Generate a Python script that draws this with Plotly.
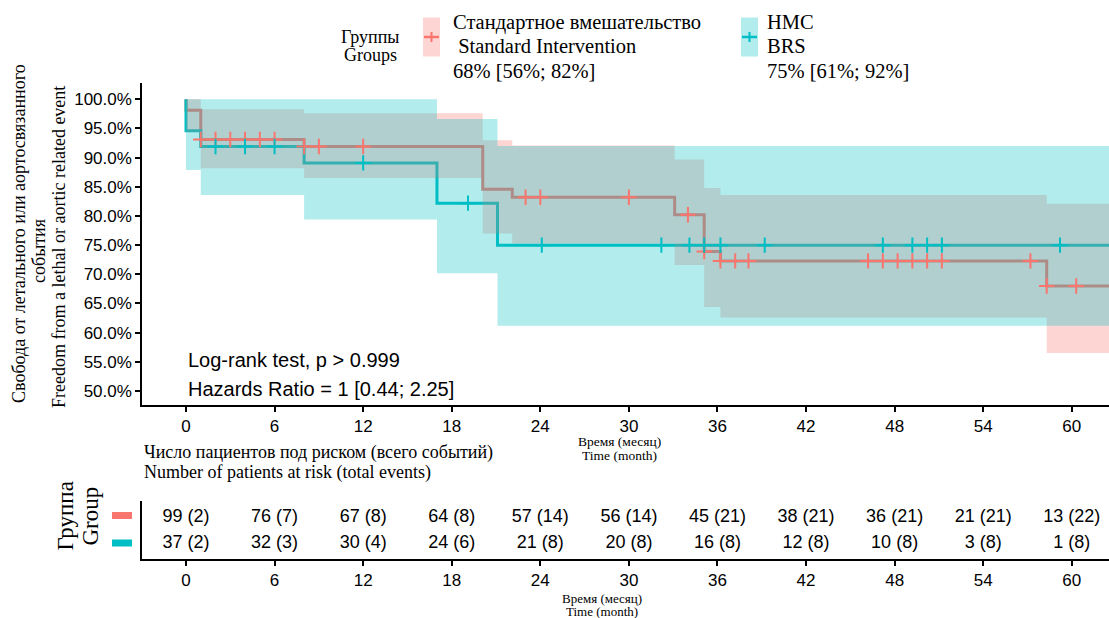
import plotly.graph_objects as go
import numpy as np

# ---------------- data ----------------
# Kaplan-Meier step curves (time in months, survival fraction)
red_time = [0, 0, 1.0, 8.0, 20.1, 22.1, 33.1, 35.1, 36.2, 58.3, 63]
red_surv = [1.0, 0.981, 0.931, 0.919, 0.846, 0.832, 0.802, 0.739, 0.723, 0.680, 0.680]
blue_time = [0, 0, 1.0, 8.0, 17.0, 21.1, 63]
blue_surv = [1.0, 0.946, 0.919, 0.891, 0.822, 0.750, 0.750]

# confidence bands (step functions)
red_ci_time = [0, 1.0, 8.0, 20.1, 22.1, 33.1, 35.1, 36.2, 58.3, 63]
red_lo = [0.944, 0.882, 0.865, 0.770, 0.753, 0.716, 0.644, 0.626, 0.565, 0.565]
red_hi = [1.0, 0.983, 0.976, 0.930, 0.921, 0.897, 0.848, 0.836, 0.821, 0.821]
blue_ci_time = [0, 1.0, 8.0, 17.0, 21.1, 63]
blue_lo = [0.879, 0.836, 0.794, 0.702, 0.612, 0.612]
blue_hi = [1.0, 1.0, 1.0, 0.966, 0.920, 0.920]

# censoring times
red_cens = [1, 2, 3, 4, 5, 6, 8, 9, 12, 23, 24, 30, 34, 35.1, 36.2, 37.2, 38.1,
            46.2, 47.2, 48.2, 49.2, 50.2, 51.2, 57.2, 58.3, 60.3]
blue_cens = [2, 4, 6, 12, 19.1, 24.1, 32.2, 34.1, 35.1, 36.2, 39.2,
             47.2, 49.2, 50.2, 51.2, 59.2]

# risk table
risk_times = [0, 6, 12, 18, 24, 30, 36, 42, 48, 54, 60]
red_at_risk = [99, 76, 67, 64, 57, 56, 45, 38, 36, 21, 13]
red_events = [2, 7, 8, 8, 14, 14, 21, 21, 21, 21, 22]
blue_at_risk = [37, 32, 30, 24, 21, 20, 16, 12, 10, 3, 1]
blue_events = [2, 3, 4, 6, 8, 8, 8, 8, 8, 8, 8]

y_ticks = [0.50, 0.55, 0.60, 0.65, 0.70, 0.75, 0.80, 0.85, 0.90, 0.95, 1.00]
x_ticks = [0, 6, 12, 18, 24, 30, 36, 42, 48, 54, 60]

red_label = ["Стандартное вмешательство", "\u00a0Standard Intervention", "68% [56%; 82%]"]
blue_label = ["HMC", "BRS", "75% [61%; 92%]"]
legend_title = ["Группы", "Groups"]
y_title = ["Свобода от летального или аортосвязанного", "события",
           "Freedom from a lethal or aortic related event"]
x_title = ["Время (месяц)", "Time (month)"]
risk_title = ["Число пациентов под риском (всего событий)", "Number of patients at risk (total events)"]
risk_ytitle = ["Группа", "Group"]

# ---------------- style ----------------
W, H = 1109, 618
RED = "#F8766D"
BLUE = "#00BFC4"
RED_F = "rgba(248,118,109,0.3)"
BLUE_F = "rgba(0,191,196,0.3)"
SERIF = "Liberation Serif"
SANS = "Liberation Sans"


def py(p):
    return 1 - p / H


def pxx(p):
    return p / W


def step_at(times, vals, t):
    i = np.searchsorted(np.array(times), t, side="right") - 1
    return vals[max(i, 0)]


fig = go.Figure()

fig.add_trace(go.Scatter(x=red_time, y=red_surv, mode="lines", line=dict(color=RED, width=3, shape="hv"),
                         hoverinfo="skip", showlegend=False))
fig.add_trace(go.Scatter(x=blue_time, y=blue_surv, mode="lines", line=dict(color=BLUE, width=3, shape="hv"),
                         hoverinfo="skip", showlegend=False))
fig.add_trace(go.Scatter(x=red_ci_time, y=red_lo, mode="lines", line=dict(width=0, shape="hv"),
                         hoverinfo="skip", showlegend=False))
fig.add_trace(go.Scatter(x=red_ci_time, y=red_hi, mode="lines", line=dict(width=0, shape="hv"),
                         fill="tonexty", fillcolor=RED_F, hoverinfo="skip", showlegend=False))
fig.add_trace(go.Scatter(x=blue_ci_time, y=blue_lo, mode="lines", line=dict(width=0, shape="hv"),
                         hoverinfo="skip", showlegend=False))
fig.add_trace(go.Scatter(x=blue_ci_time, y=blue_hi, mode="lines", line=dict(width=0, shape="hv"),
                         fill="tonexty", fillcolor=BLUE_F, hoverinfo="skip", showlegend=False))

red_cens_y = [step_at(red_time, red_surv, t) for t in red_cens]
blue_cens_y = [step_at(blue_time, blue_surv, t) for t in blue_cens]
fig.add_trace(go.Scatter(x=red_cens, y=red_cens_y, mode="markers",
                         marker=dict(symbol="cross-thin", size=11, line=dict(color=RED, width=2)),
                         hoverinfo="skip", showlegend=False))
fig.add_trace(go.Scatter(x=blue_cens, y=blue_cens_y, mode="markers",
                         marker=dict(symbol="cross-thin", size=11, line=dict(color=BLUE, width=2)),
                         hoverinfo="skip", showlegend=False))

# risk table text
fig.add_trace(go.Scatter(x=risk_times, y=[2] * len(risk_times), mode="text",
                         text=[f"{n} ({e})" for n, e in zip(red_at_risk, red_events)],
                         textfont=dict(family=SANS, size=18, color="black"),
                         xaxis="x2", yaxis="y2", hoverinfo="skip", showlegend=False))
fig.add_trace(go.Scatter(x=risk_times, y=[1] * len(risk_times), mode="text",
                         text=[f"{n} ({e})" for n, e in zip(blue_at_risk, blue_events)],
                         textfont=dict(family=SANS, size=18, color="black"),
                         xaxis="x2", yaxis="y2", hoverinfo="skip", showlegend=False))

x_dom = [pxx(142), 1.0]
x_range = [-2.98, 62.52]
axis_common = dict(showline=True, linecolor="black", linewidth=1.5, ticks="outside", ticklen=5,
                   tickcolor="black", tickwidth=1.5, showgrid=False, zeroline=False,
                   tickfont=dict(family=SANS, size=17, color="black"))

fig.update_layout(
    width=W, height=H, autosize=False,
    margin=dict(l=0, r=0, t=0, b=0),
    paper_bgcolor="white", plot_bgcolor="white",
    showlegend=False,
    xaxis=dict(domain=x_dom, range=x_range, tickvals=x_ticks, anchor="y", **axis_common),
    yaxis=dict(domain=[py(405), py(83.3)], range=[0.476, 1.0274], tickvals=y_ticks,
               tickformat=".1%", anchor="x", **axis_common),
    xaxis2=dict(domain=x_dom, range=x_range, tickvals=x_ticks, anchor="y2", **axis_common),
    yaxis2=dict(domain=[py(559.3), py(500.7)], range=[0.418, 2.646], anchor="x2",
                showline=True, linecolor="black", linewidth=1.5, ticks="", showticklabels=False,
                showgrid=False, zeroline=False),
)

ann = []


def txt(text, x, y, size, family=SERIF, xanchor="left", angle=0, xref="paper", pad=1):
    ann.append(dict(text=text, x=x if xref != "paper" else pxx(x), y=py(y), xref=xref, yref="paper",
                    xanchor=xanchor, yanchor="middle", showarrow=False, textangle=angle, borderpad=pad,
                    font=dict(family=family, size=size, color="black")))


# legend
for s, yy in zip(legend_title, [36.5, 55.5]):
    txt(s, 370, yy, 18, xanchor="center")
for s, yy in zip(red_label, [22, 46.5, 71]):
    txt(s, 451, yy, 20.5)
for s, yy in zip(blue_label, [22, 46.5, 71]):
    txt(s, 765, yy, 20.5)
# y title
for s, xx, yy in zip(y_title, [19, 39, 59], [234, 251, 247]):
    txt(s, xx, yy, 18, xanchor="center", angle=-90)
# stats
txt("Log-rank test, p > 0.999", 0, 360, 20, family=SANS, xref="x")
txt("Hazards Ratio = 1 [0.44; 2.25]", 0, 389, 20, family=SANS, xref="x")
# x titles
for s, yy in zip(x_title, [441.5, 455.5]):
    txt(s, 619, yy, 13.5, xanchor="center", pad=0)
for s, yy in zip(x_title, [598, 611]):
    txt(s, 602, yy, 13, xanchor="center", pad=0)
# risk table titles
for s, yy in zip(risk_title, [452, 472]):
    txt(s, 142, yy, 18)
for s, xx in zip(risk_ytitle, [65, 90]):
    txt(s, xx, 516.5, 23, xanchor="center", angle=-90)
fig.update_layout(annotations=ann)

shapes = []
# legend keys
for x0, fcol, lcol in [(423, RED_F, RED), (741, BLUE_F, BLUE)]:
    shapes.append(dict(type="rect", xref="paper", yref="paper", x0=pxx(x0), x1=pxx(x0 + 17),
                       y0=py(56.5), y1=py(17.5), fillcolor=fcol, line=dict(width=0)))
    shapes.append(dict(type="line", xref="paper", yref="paper", x0=pxx(x0 + 1), x1=pxx(x0 + 16),
                       y0=py(37), y1=py(37), line=dict(color=lcol, width=2.5)))
    shapes.append(dict(type="line", xref="paper", yref="paper", x0=pxx(x0 + 8.5), x1=pxx(x0 + 8.5),
                       y0=py(32), y1=py(42), line=dict(color=lcol, width=2)))
# risk table colour keys
for yc, col in [(515.5, RED), (543, BLUE)]:
    shapes.append(dict(type="rect", xref="paper", yref="paper", x0=pxx(112), x1=pxx(132),
                       y0=py(yc + 3.5), y1=py(yc - 3.5), fillcolor=col, line=dict(width=0)))
fig.update_layout(shapes=shapes)

fig.write_html("out.html", config={"displayModeBar": False},
               post_script="document.body.style.margin='0';")
